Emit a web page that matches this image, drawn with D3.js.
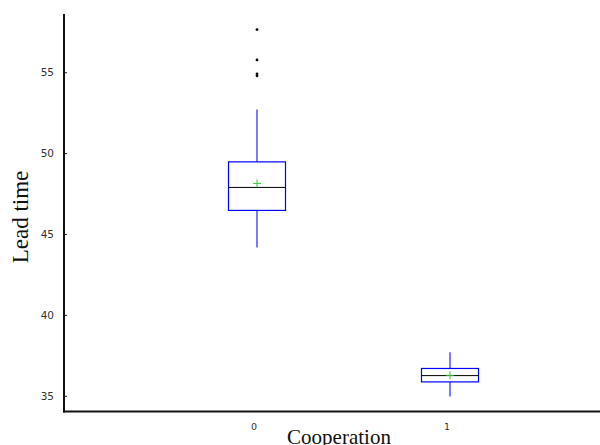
<!DOCTYPE html>
<html>
<head>
<meta charset="utf-8">
<script src="https://cdn.jsdelivr.net/npm/d3@7"></script>
<style>
  body { margin: 0; background: #fff; }
  svg { display: block; }
</style>
</head>
<body>
<div id="graph"></div>
<script>
var categories = ["0", "1"];
var whiskerLow = [44.16, 34.96];
var q1 = [46.46, 35.86];
var median = [47.88, 36.25];
var q3 = [49.46, 36.69];
var whiskerHigh = [52.7, 37.7];
var means = [48.13, 36.27];
var outliers = [[54.78, 54.9, 55.76, 57.64], []];
var yTicks = [35, 40, 45, 50, 55];

var width = 600, height = 445;
var boxWidth = 57;

var svg = d3.select('#graph').append('svg')
  .attr('width', width).attr('height', height);

var y = d3.scaleLinear().domain([34, 58.6]).range([412, 14]);
// categories sit at 0 and 1, plot spans -1 .. 2
var x = d3.scaleLinear().domain([-1, 2]).range([64, 643]);

// y axis
var yAxis = d3.axisLeft(y).tickValues(yTicks).tickSize(-3).tickPadding(10);
var gy = svg.append('g').attr('transform', 'translate(64,0)').call(yAxis);
gy.select('.domain').remove();
gy.selectAll('line').attr('stroke', '#222');
gy.selectAll('text').attr('font-family', 'DejaVu Sans, sans-serif')
  .attr('font-size', 10.5).attr('fill', '#333');
svg.append('line').attr('x1', 64).attr('x2', 64).attr('y1', 14).attr('y2', 412.5)
  .attr('stroke', '#111').attr('stroke-width', 2);

// x axis
svg.append('line').attr('x1', 63).attr('x2', width).attr('y1', 411.5).attr('y2', 411.5)
  .attr('stroke', '#111').attr('stroke-width', 2);
svg.selectAll('text.xtick').data(categories).enter().append('text')
  .attr('class', 'xtick')
  .attr('x', function(d, i){ return x(i) - 3; })
  .attr('y', 430)
  .attr('text-anchor', 'middle')
  .attr('font-family', 'DejaVu Sans, sans-serif')
  .attr('font-size', 9.5)
  .attr('fill', '#333')
  .text(function(d){ return d; });

// axis titles
svg.append('text')
  .attr('transform', 'translate(28,217) rotate(-90)')
  .attr('text-anchor', 'middle')
  .attr('font-family', 'Liberation Serif, Times New Roman, serif')
  .attr('font-size', 23)
  .attr('fill', '#111')
  .text('Lead time');
svg.append('text')
  .attr('x', 339).attr('y', 444)
  .attr('text-anchor', 'middle')
  .attr('font-family', 'Liberation Serif, Times New Roman, serif')
  .attr('font-size', 21)
  .attr('fill', '#111')
  .text('Cooperation');

// boxes
var g = svg.selectAll('g.box').data(categories).enter().append('g').attr('class', 'box');

g.append('line')
  .attr('x1', function(d, i){ return x(i); }).attr('x2', function(d, i){ return x(i); })
  .attr('y1', function(d, i){ return y(whiskerHigh[i]); })
  .attr('y2', function(d, i){ return y(q3[i]); })
  .attr('stroke', '#3333ff').attr('stroke-width', 1.3);
g.append('line')
  .attr('x1', function(d, i){ return x(i); }).attr('x2', function(d, i){ return x(i); })
  .attr('y1', function(d, i){ return y(q1[i]); })
  .attr('y2', function(d, i){ return y(whiskerLow[i]); })
  .attr('stroke', '#3333ff').attr('stroke-width', 1.3);

g.append('rect')
  .attr('x', function(d, i){ return x(i) - boxWidth / 2; })
  .attr('width', boxWidth)
  .attr('y', function(d, i){ return y(q3[i]); })
  .attr('height', function(d, i){ return y(q1[i]) - y(q3[i]); })
  .attr('fill', 'none').attr('stroke', '#0000ff').attr('stroke-width', 1.2);

g.append('line')
  .attr('x1', function(d, i){ return x(i) - boxWidth / 2; })
  .attr('x2', function(d, i){ return x(i) + boxWidth / 2; })
  .attr('y1', function(d, i){ return y(median[i]); })
  .attr('y2', function(d, i){ return y(median[i]); })
  .attr('stroke', '#000').attr('stroke-width', 1);

// mean markers
g.append('path')
  .attr('d', function(d, i){
    var cx = x(i), cy = y(means[i]);
    return 'M' + (cx - 4) + ',' + cy + 'H' + (cx + 4) + 'M' + cx + ',' + (cy - 4) + 'V' + (cy + 4);
  })
  .attr('stroke', '#33cc33').attr('stroke-width', 1);

// outliers
g.each(function(d, i){
  d3.select(this).selectAll('circle').data(outliers[i]).enter().append('circle')
    .attr('cx', x(i))
    .attr('cy', function(v){ return y(v); })
    .attr('r', 1.4)
    .attr('fill', '#000');
});
</script>
</body>
</html>
